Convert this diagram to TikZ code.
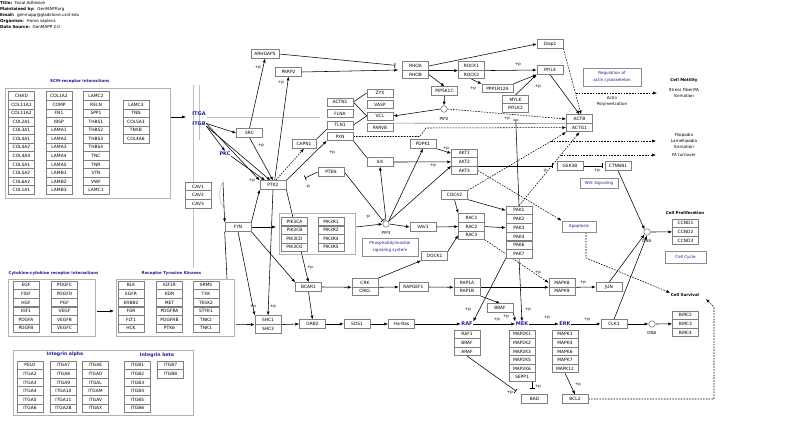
\documentclass[tikz,border=0pt]{standalone}
\usepackage{fontspec}
\setmainfont{DejaVu Sans}
\usetikzlibrary{arrows.meta}
\definecolor{kblue}{RGB}{30,30,150}
\pgfdeclarelayer{bottom}
\pgfdeclarelayer{background}
\pgfsetlayers{bottom,background,main}
\begin{document}
\begin{tikzpicture}[x=1pt,y=-1pt,
  gb/.style={draw=black!50,fill=white,line width=0.65pt,minimum width=26pt,minimum height=8.55pt,inner sep=0pt,font=\fontsize{4.4}{4.8}\selectfont},
  hdr/.style={anchor=west,inner sep=0pt,font=\fontsize{4.1}{4.5}\selectfont},
  txt/.style={font=\fontsize{4.1}{6}\selectfont,inner sep=0.5pt,align=center},
  pl/.style={font=\fontsize{4}{4.2}\selectfont,inner sep=0pt},
  ttl/.style={font=\bfseries\fontsize{4}{5}\selectfont,text=kblue,inner sep=0.5pt},
  itt/.style={font=\bfseries\fontsize{4.6}{5}\selectfont,text=kblue,inner sep=0.5pt},
  big/.style={font=\bfseries\fontsize{5}{6}\selectfont,text=kblue,inner sep=0.5pt},
  outlbl/.style={font=\bfseries\fontsize{4}{5}\selectfont,inner sep=0.5pt},
  grp/.style={draw=black!30,line width=0.8pt,inner sep=0pt},
  lnk/.style={draw=black!45,line width=0.7pt,fill=white,inner sep=0pt,text=kblue,font=\fontsize{4.1}{7}\selectfont,align=center},
  cpd/.style={circle,draw=black!60,line width=0.5pt,minimum size=6.5pt,inner sep=0pt,fill=white},
  arr/.style={-{Latex[length=3.8pt,width=3pt]},line width=0.55pt},
  inh/.style={-{Bar[width=5pt,line width=0.7pt]},line width=0.55pt},
  dsh/.style={dash pattern=on 1.6pt off 1.2pt},
  mem/.style={draw=black!25,line width=0.6pt},
  plain/.style={line width=0.55pt},
]
\useasboundingbox (0,0) rectangle (800,422);
\begin{pgfonlayer}{bottom}
\fill[white] (0,0) rectangle (800,422);
\end{pgfonlayer}

% ===== header
\node[hdr] (h1) at (0,3.2) {\textbf{Title:}\ \ Focal Adhesion};
\node[hdr] (h2) at (0,9.4) {\textbf{Maintained by:}\ \ GenMAPP.org};
\node[hdr] (h3) at (0,15.2) {\textbf{Email:}\ \ genmapp@gladstone.ucsf.edu};
\node[hdr] (h4) at (0,21) {\textbf{Organism:}\ \ Homo sapiens};
\node[hdr] (h5) at (0,26.8) {\textbf{Data Source:}\ \ GenMAPP 2.0};

% ===== ECM receptor interactions
\node[ttl] (ecmt) at (80,81) {ECM-receptor interactions};
\node[grp,minimum width=165pt,minimum height=110pt] (ecm) at (87.5,143) {};
\foreach \t [count=\i] in {CHAD,COL11A1,COL11A2,COL2A1,COL3A1,COL4A1,COL4A2,COL4A4,COL5A1,COL5A2,COL6A2,COL1A1}
  \node[gb] (ecma\i) at (21.5,{87.5+8.55*\i}) {\t};
\foreach \t [count=\i] in {COL1A2,COMP,FN1,IBSP,LAMA1,LAMA2,LAMA3,LAMA4,LAMA5,LAMB1,LAMB2,LAMB3}
  \node[gb] (ecmb\i) at (59,{87.5+8.55*\i}) {\t};
\foreach \t [count=\i] in {LAMC2,RELN,SPP1,THBS1,THBS2,THBS3,THBS4,TNC,TNR,VTN,VWF,LAMC1}
  \node[gb] (ecmc\i) at (96,{87.5+8.55*\i}) {\t};
\foreach \t [count=\i] in {LAMC3,TNN,COL5A3,TNXB,COL4A6}
  \node[gb] (ecmd\i) at (136,{96.05+8.55*\i}) {\t};

% ===== cytokine
\node[ttl,anchor=west] (cytt) at (8,273) {Cytokine-cytokine receptor interactions};
\node[grp,minimum width=87pt,minimum height=57pt] (cyt) at (51.5,307.5) {};
\foreach \t [count=\i] in {EGF,FIGF,HGF,IGF1,PDGFA,PDGFB}
  \node[gb] (cyta\i) at (26,{276.7+8.6*\i}) {\t};
\foreach \t [count=\i] in {PDGFC,PDGFD,PGF,VEGF,VEGFB,VEGFC}
  \node[gb] (cytb\i) at (64.5,{276.7+8.6*\i}) {\t};

% ===== RTK
\node[ttl,anchor=west] (rtkt) at (141,273) {Receptor Tyrosine Kinases};
\node[grp,minimum width=118pt,minimum height=57pt] (rtk) at (175,307.5) {};
\foreach \t [count=\i] in {BLK,EGFR,ERBB2,FGR,FLT1,HCK}
  \node[gb] (rtka\i) at (131,{276.7+8.6*\i}) {\t};
\foreach \t [count=\i] in {IGF1R,KDR,MET,PDGFRA,PDGFRB,PTK6}
  \node[gb] (rtkb\i) at (169.5,{276.7+8.6*\i}) {\t};
\foreach \t [count=\i] in {SRMS,TXK,TESK2,STYK1,TNK2,TNK1}
  \node[gb] (rtkc\i) at (206,{276.7+8.6*\i}) {\t};

% ===== integrins
\node[grp,minimum width=180pt,minimum height=65pt] (intg) at (103,382.5) {};
\node[itt] (inta) at (65,354.5) {Integrin alpha};
\node[itt] (intb) at (157,355) {Integrin beta};
\foreach \t [count=\i] in {PELO,ITGA2,ITGA3,ITGA4,ITGA5,ITGA6}
  \node[gb] (itaa\i) at (30,{356.8+8.55*\i}) {\t};
\foreach \t [count=\i] in {ITGA7,ITGA8,ITGA9,ITGA10,ITGA11,ITGA2B}
  \node[gb] (itab\i) at (63.5,{356.8+8.55*\i}) {\t};
\foreach \t [count=\i] in {ITGAE,ITGAD,ITGAL,ITGAM,ITGAV,ITGAX}
  \node[gb] (itac\i) at (95.5,{356.8+8.55*\i}) {\t};
\foreach \t [count=\i] in {ITGB1,ITGB2,ITGB3,ITGB4,ITGB5,ITGB6}
  \node[gb] (itba\i) at (137.5,{356.8+8.55*\i}) {\t};
\foreach \t [count=\i] in {ITGB7,ITGB8}
  \node[gb] (itbb\i) at (170.5,{356.8+8.55*\i}) {\t};

% ===== main pathway nodes
\node[big] (itga) at (199,113.5) {ITGA};
\node[big] (itgb) at (199,123.5) {ITGB};
\node[big] (pkc) at (225,153.7) {PKC};
\node[gb,minimum width=28pt] (arhgap5) at (265,54) {ARHGAP5};
\node[gb] (parp2) at (288.5,72) {PARP2};
\node[gb] (src) at (249.5,133) {SRC};
\node[gb,minimum height=8pt] (actn1) at (340,102) {ACTN1};
\node[gb,minimum height=8pt] (flna) at (340,113.5) {FLNA};
\node[gb,minimum height=8pt] (tln1) at (340,125) {TLN1};
\node[gb,minimum height=8pt] (pxn) at (340,136.5) {PXN};
\node[gb,minimum height=8pt] (zyx) at (380,93) {ZYX};
\node[gb,minimum height=8pt] (vasp) at (380,104.5) {VASP};
\node[gb,minimum height=8pt] (vcl) at (380,116) {VCL};
\node[gb,minimum height=8pt] (parvb) at (380,127.5) {PARVB};
\node[gb,minimum width=24pt] (capn1) at (304,144) {CAPN1};
\node[gb] (ptk2) at (273,185) {PTK2};
\node[gb] (pten) at (331,172) {PTEN};
\node[gb] (ilk) at (380,162) {ILK};
\node[gb] (pdpk1) at (423,144) {PDPK1};
\node[gb] (akt1) at (464.5,153.3) {AKT1};
\node[gb] (akt2) at (464.5,161.9) {AKT2};
\node[gb] (akt3) at (464.5,170.5) {AKT3};
\node[gb] (gsk3b) at (570,166) {GSK3B};
\node[gb] (ctnnb1) at (618,166) {CTNNB1};
\node[lnk,minimum width=38pt,minimum height=10pt] (wnt) at (599,183) {Wnt Signaling};
\node[gb] (cdc42) at (454.5,195) {CDC42};
\node[gb] (cav1) at (198,186.5) {CAV1};
\node[gb] (cav2) at (198,195.05) {CAV2};
\node[gb] (cav3) at (198,203.6) {CAV3};
\node[gb] (fyn) at (238,227) {FYN};
\node[grp,minimum width=76pt,minimum height=41pt] (pi3k) at (317,233.5) {};
\foreach \t [count=\i] in {PIK3CA,PIK3CB,PIK3CD,PIK3CG}
  \node[gb] (pikc\i) at (294.5,{212.9+8.6*\i}) {\t};
\foreach \t [count=\i] in {PIK3R1,PIK3R2,PIK3R4,PIK3R5}
  \node[gb] (pikr\i) at (331,{212.9+8.6*\i}) {\t};
\node[cpd] (pip3) at (386,224) {};
\node[txt] (pip3l) at (386,233.5) {PIP3};
\node[lnk,minimum width=56pt,minimum height=18pt] (phos) at (390,247) {Phosphatidylinositol\\signaling system};
\node[gb] (vav1) at (423,227) {VAV1};
\node[gb] (rac1) at (471.5,218) {RAC1};
\node[gb] (rac2) at (471.5,226.6) {RAC2};
\node[gb] (rac3) at (471.5,235.2) {RAC3};
\foreach \t [count=\i] in {PAK1,PAK2,PAK3,PAK4,PAK6,PAK7}
  \node[gb] (pak\i) at (519,{201.6+8.7*\i}) {\t};
\node[gb] (dock1) at (434.5,256) {DOCK1};
\node[lnk,minimum width=34pt,minimum height=11pt] (apop) at (579,226.5) {Apoptosis};
\node[cpd] (dna1) at (647,232) {};
\node[txt] (dna1l) at (647,241.5) {DNA};
\node[outlbl] (cellpro) at (685,213) {Cell Proliferation};
\node[gb] (ccnd1) at (685.5,223.3) {CCND1};
\node[gb] (ccnd2) at (685.5,231.9) {CCND2};
\node[gb] (ccnd3) at (685.5,240.5) {CCND3};
\node[lnk,minimum width=41pt,minimum height=12pt] (ccycle) at (685.5,257) {Cell Cycle};

% top right
\node[gb] (rhoa) at (415.5,66) {RHOA};
\node[gb] (rhob) at (415.5,74.55) {RHOB};
\node[gb] (rock1) at (471.5,66) {ROCK1};
\node[gb] (rock2) at (471.5,74.55) {ROCK2};
\node[gb] (diap1) at (550,44) {Diap1};
\node[gb] (myl) at (550,70) {MYL4};
\node[gb] (pip5k1c) at (444.5,91) {PIP5K1C};
\node[cpd] (pip2) at (444,109) {};
\node[txt] (pip2l) at (444,118.5) {PIP2};
\node[gb,minimum width=31pt] (ppp1r12a) at (497.5,88.5) {PPP1R12A};
\node[gb] (mylk) at (515.5,99.5) {MYLK};
\node[gb] (mylk2) at (515.5,108.05) {MYLK2};
\node[gb] (actb) at (579.5,119) {ACTB};
\node[gb] (actg1) at (579.5,127.55) {ACTG1};
\node[lnk,minimum width=58pt,minimum height=18pt] (regact) at (612,77) {Regulation of\\actin cytoskeleton};
\node[txt] (actp) at (612,101.5) {Actin\\Polymerization};
\node[outlbl] (cellmot) at (684,80) {Cell Motility};
\node[txt] (sfib) at (684,93) {Stress Fiber/FA\\formation};
\node[txt] (filo) at (684,140.5) {Filopodia\\Lamellipodia\\formation};
\node[txt] (fat) at (684,155) {FA turnover};

% bottom pathway
\node[gb] (bcar1) at (308.5,287) {BCAR1};
\node[gb] (crk) at (365,282.7) {CRK};
\node[gb] (crkl) at (365,291.25) {CRKL};
\node[gb,minimum width=29pt] (rapgef1) at (413.5,287) {RAPGEF1};
\node[gb] (rap1a) at (467,282.7) {RAP1A};
\node[gb] (rap1b) at (467,291.25) {RAP1B};
\node[gb] (mapk8) at (562,282.7) {MAPK8};
\node[gb] (mapk9) at (562,291.25) {MAPK9};
\node[gb] (jun) at (609,287) {JUN};
\node[gb] (braf) at (500,308) {BRAF};
\node[gb] (shc1) at (268,320) {SHC1};
\node[gb] (shc3) at (268,328.55) {SHC3};
\node[gb] (grb2) at (312.5,324) {GRB2};
\node[gb] (sos1) at (357,324) {SOS1};
\node[gb] (hras) at (401.5,324) {Ha-Ras};
\node[big] (raf) at (467,324) {RAF};
\node[big] (mek) at (522,324) {MEK};
\node[big] (erk) at (565,324) {ERK};
\node[gb] (raf1) at (467,334.3) {RAF1};
\node[gb] (braf2) at (467,342.85) {BRAF};
\node[gb] (araf) at (467,351.4) {ARAF};
\foreach \t [count=\i] in {MAP2K1,MAP2K2,MAP2K3,MAP2K5,MAP2K6,SEPP1}
  \node[gb] (mek\i) at (522,{325.75+8.55*\i}) {\t};
\foreach \t [count=\i] in {MAPK1,MAPK4,MAPK6,MAPK7,MAPK12}
  \node[gb] (erk\i) at (565,{325.75+8.55*\i}) {\t};
\node[gb] (clk1) at (614,324) {CLK1};
\node[cpd] (dna2) at (652,324) {};
\node[txt] (dna2l) at (652,333.5) {DNA};
\node[outlbl] (cellsurv) at (685,295) {Cell Survival};
\node[gb] (birc2) at (685.5,315.3) {BIRC2};
\node[gb] (birc3) at (685.5,323.85) {BIRC3};
\node[gb] (birc4) at (685.5,332.4) {BIRC4};
\node[gb] (bad) at (534.5,399) {BAD};
\node[gb] (bcl2) at (575,399) {BCL2};

% phosphorylation labels
\foreach \x/\y/\t [count=\i] in {258/68/+p,281/83/+p,261/146/+p,252/181/+p,332/153/+p,308/187/-p,368/217/-p,
  433/166/+p,446/149/+p,545/171/-p,597/171/+p,518/65/+p,473/89/+p,538/87/+p,507/119/+p,538/273/+p,583/283/+p,
  310/268/+p,253/307/+p,273/307/+p,468/310/+p,528/310/+p,506/317/+p,497/320/+p,547/318/+p,587/320/+p,
  510/393/+p,538/387/+p,578/385/+p}
  \node[pl] (lp\i) at (\x,\y) {\t};

% ===== connectors
\begin{pgfonlayer}{background}
\coordinate (ecmout) at (171,117);
\coordinate (ecmin) at (186,117);
\coordinate (itgl0) at (207,117);
\coordinate (itgl1) at (320,117);
\coordinate (cavc) at (223,183);
\coordinate (rtkc) at (227,279);
\coordinate (pteninh) at (305,178);
\coordinate (cytout) at (97,311);
\coordinate (rtkin) at (114,311);
\coordinate (rtkout) at (236,324.3);
\coordinate (pi3kin) at (276,227);
\coordinate (pi3kout) at (356,227);
\coordinate (stress) at (657,93);
\coordinate (stressb) at (576,93);
\coordinate (filoe) at (656,141);
\coordinate (filob) at (551,141);
\coordinate (fate) at (656,155);
\coordinate (fatb) at (561,155);
\coordinate (pxnd1) at (420,136.5);
\coordinate (pxnd2) at (426,128);
\coordinate (apd) at (586,258);
\coordinate (bclc1) at (714,399);
\coordinate (bclc2) at (714,307);
\coordinate (survin) at (706,299);
\coordinate (badt1) at (532,378);
\coordinate (badt2) at (532,389);
\coordinate (badinh) at (516,391);

% membrane
\draw[mem] (193,85) -- (193,268);
\draw[mem] (199.5,85) -- (199.5,140);
\draw[mem] (itgl0) -- (itgl1);
\draw[mem] (224,181) .. controls (218,189) and (218,200) .. (224,208);

\draw[arr] (ecmout) -- (ecmin);
\draw[arr] (cytout) -- (rtkin);
\draw[arr] (itgb.east) -- (src.west);
\draw[arr] (itgb.east) -- (ptk2.north west);
\draw[arr] (itgb.south east) -- (ptk2.120);
\draw[arr] (itgb.south east) -- (pkc.north);
\draw[arr] (pkc.south east) -- (ptk2.150);
\draw[arr] (src.south) -- (ptk2.north);
\draw[arr] (src.north) -- (arhgap5.south);
\draw[arr] (ptk2.70) -- (parp2.south);
\draw[arr,dsh] (ptk2.60) -- (capn1.south);
\draw[arr] (ptk2.north east) -- (pxn.south west);
\draw[inh] (pten.west) -- (pteninh);
\draw[inh,shorten >=1pt] (pten.east) -- (pip3.north west);
\draw[plain] (tln1.south west) -- (capn1.north east);
\draw[plain] (actn1.east) -- (zyx.west);
\draw[plain] (actn1.east) -- (vcl.west);
\draw[plain] (tln1.east) -- (vcl.west);
\draw[plain] (pxn.south east) -- (ilk.north west);
\draw[arr] (pip3.north) -- (ilk.south);
\draw[arr] (pip3.north east) -- (pdpk1.south);
\draw[arr] (pip3.north east) -- (akt3.north west);
\draw[arr] (pdpk1.south east) -- (akt1.west);
\draw[arr] (ilk.east) -- (akt2.west);
\draw[inh,shorten >=4pt] (akt2.east |- gsk3b.west) -- (gsk3b.west);
\draw[inh,shorten >=2pt] (gsk3b.east) -- (ctnnb1.west);
\draw[arr] (ctnnb1.south) -- (dna1.north west);
\draw[arr] (dna1.east) -- (ccnd2.west);
\draw[arr] (jun.north) -- (dna1.south west);
\draw[arr] (clk1.north) -- (dna1.south);
\draw[arr] (clk1.east) -- (dna2.west);
\draw[arr] (dna2.east) -- (birc3.west);
\draw[arr] (mapk8.south east) -- (jun.west);
\draw[arr,dsh] (rac3.south east) -- (mapk8.west);
\draw[arr] (rap1a.south east) -- (mapk8.south west);
\draw[arr] (rap1b.south east) -- (braf.north);
\draw[arr] (braf.south east) -- (mek.north west);
\draw[arr] (pak6.south west) -- (raf.north east);
\draw[arr] (pak6.south) -- (mek.north);
\draw[arr] (rac2.east) -- (pak3.west);
\draw[arr] (vav1.east) -- (rac2.west);
\draw[arr] (pip3.east) -- (vav1.west);
\draw[arr] (pi3kout) -- (pip3.west);
\draw[arr] (cdc42.south) -- (rac1.north west);
\draw[arr] (cdc42.south east) -- (pak1.west);
\draw[arr] (dock1.north east) -- (rac3.west);
\draw[arr] (crk.north east) -- (dock1.south west);
\draw[arr] (fyn.east) -- (pi3kin);
\draw[arr] (fyn.north east) -- (ptk2.south west);
\draw[arr] (fyn.south) -- (shc1.north west);
\draw[arr] (fyn.south east) -- (bcar1.north west);
\draw[arr] (ptk2.south) -- (shc1.north);
\draw[arr] (ptk2.south east) -- (bcar1.north);
\draw[plain] (rtkc) -- (fyn.south west);
\draw[arr] (cavc) -- (fyn.north west);
\draw[arr] (bcar1.east) -- (crk.south west);
\draw[arr] (bcar1.south) -- (grb2.north);
\draw[arr] (crk.south east) -- (rapgef1.west);
\draw[arr] (rapgef1.east) -- (rap1a.south west);
\draw[arr] (rtkout) -- (shc1.south west);
\draw[arr] (shc1.south east) -- (grb2.west);
\draw[arr] (grb2.east) -- (sos1.west);
\draw[arr] (sos1.east) -- (hras.west);
\draw[arr] (hras.east) -- (raf.west);
\draw[arr] (raf.east) -- (mek.west);
\draw[arr] (mek.east) -- (erk.west);
\draw[arr] (erk.east) -- (clk1.west);
\draw[inh] (araf.south) -- (badinh);
\draw[inh] (badt1) -- (badt2);
\draw[arr] (erk5.south) -- (bcl2.north);
\draw[arr,dsh] (bcl2.east) -- (bclc1) -- (bclc2) -- (survin);
\draw[arr,dsh] (akt3.east) -- (apop.north west);
\draw[arr,dsh] (apop.south -| apd) -- (apd) -- (cellsurv.north west);

% top
\draw[inh,shorten >=7pt] (arhgap5.east) -- (rhoa.west);
\draw[arr,shorten >=4pt] (parp2.east) -- (rhob.north west);
\draw[arr] (rhoa.south east) -- (rock1.south west);
\draw[arr] (rhoa.east) -- (diap1.west);
\draw[arr] (rhob.east) -- (pip5k1c.north);
\draw[arr] (pip5k1c.south) -- (pip2.north);
\draw[arr] (pip2.west) -- (vcl.east);
\draw[arr,dsh] (pip2.east) -- (actb.west);
\draw[arr] (rock1.south east) -- (myl.west);
\draw[arr] (rock2.south) -- (ppp1r12a.north west);
\draw[arr] (ppp1r12a.north east) -- (myl.south west);
\draw[arr] (mylk.north) -- (myl.south west);
\draw[arr] (myl.south) -- (actb.north);
\draw[arr,dsh] (diap1.south east) -- (actb.70);
\draw[arr,dsh] (stressb) -- (stress);
\draw[arr,dsh] (cdc42.north east) -- (actg1.south west);
\draw[arr,dsh] (filob) -- (filoe);
\draw[arr,dsh] (pak1.north) -- (actg1.south);
\draw[arr,dsh] (fatb) -- (fate);
\draw[arr,dsh] (pxn.east) -- (pxnd1) -- (pxnd2) -- (actg1.west);
\draw[draw=black!45,line width=0.55pt] (parvb.north east) -- (actb.south west);
\draw[inh,shorten >=7pt] (pak1.north) -- (mylk2.south);
\end{pgfonlayer}
\end{tikzpicture}
\end{document}
